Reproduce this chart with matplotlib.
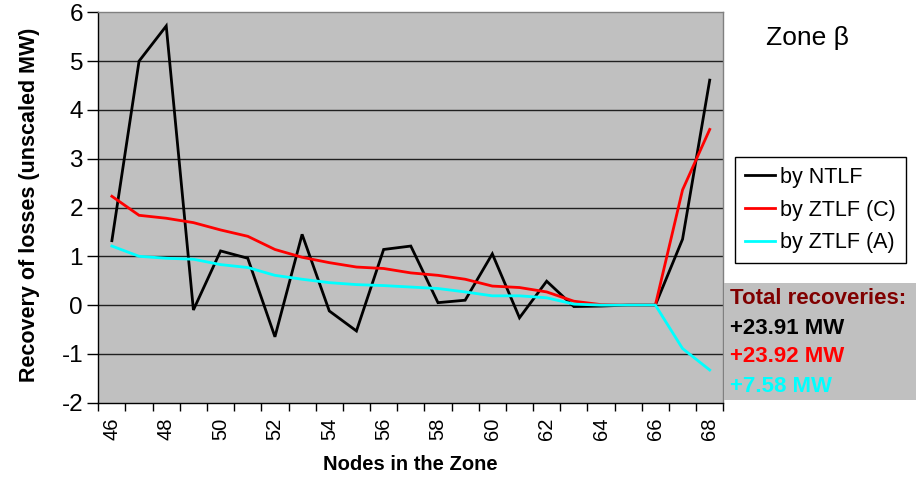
import matplotlib
matplotlib.use("Agg")
import matplotlib.pyplot as plt
import numpy as np

nodes = list(range(46, 69))
ntlf = [1.32, 5.00, 5.72, -0.10, 1.11, 0.96, -0.65, 1.45, -0.12, -0.53, 1.14, 1.21,
        0.05, 0.10, 1.05, -0.26, 0.49, -0.03, -0.02, 0.0, 0.0, 1.35, 4.61]
ztlf_c = [2.23, 1.84, 1.78, 1.69, 1.54, 1.41, 1.14, 0.98, 0.87, 0.78, 0.75, 0.66,
          0.61, 0.53, 0.39, 0.36, 0.27, 0.08, 0.01, 0.0, 0.0, 2.36, 3.60]
ztlf_a = [1.21, 1.00, 0.96, 0.94, 0.83, 0.77, 0.61, 0.53, 0.46, 0.42, 0.40, 0.37,
          0.34, 0.27, 0.19, 0.19, 0.15, 0.02, 0.0, 0.0, 0.0, -0.89, -1.33]
series_names = ["by NTLF", "by ZTLF (C)", "by ZTLF (A)"]
series_colors = ["#000000", "#ff0000", "#00ffff"]
totals_title = "Total recoveries:"
totals = ["+23.91 MW", "+23.92 MW", "+7.58 MW"]

plt.rcParams['font.family'] = ['Liberation Sans', 'DejaVu Sans']

fig = plt.figure(figsize=(9.22, 4.80), dpi=100)
W, H = 922, 480
ax = fig.add_axes([98.3 / W, 1 - 402.7 / H, (723.3 - 98.3) / W, (402.7 - 12.3) / H])
ax.set_facecolor("#c0c0c0")

x = np.arange(len(nodes))
for vals, name, col in zip([ntlf, ztlf_c, ztlf_a], series_names, series_colors):
    ax.plot(x, vals, color=col, lw=2, label=name, solid_joinstyle='miter', zorder=3)

ax.set_xlim(-0.5, len(nodes) - 0.5)
ax.set_ylim(-2, 6)
ax.set_yticks(range(-2, 7))
ax.set_yticklabels([str(v) for v in range(-2, 7)], fontsize=17.5)
for v in range(-1, 6):
    ax.axhline(v, color="#202020", lw=1, zorder=1)

ax.set_xticks(np.arange(len(nodes) + 1) - 0.5)
ax.set_xticklabels([])
ax.set_xticks(x[::2], minor=True)
ax.set_xticklabels([str(n) for n in nodes[::2]], minor=True, rotation=90, fontsize=14.5)
ax.tick_params(axis='x', which='minor', length=0, pad=11)
ax.tick_params(axis='x', which='major', length=6, width=1, direction='out', color='black')
ax.tick_params(axis='y', length=8, width=1, direction='out', pad=3)

for s in ['top', 'right']:
    ax.spines[s].set_color('#808080')
    ax.spines[s].set_linewidth(1)
for s in ['left', 'bottom']:
    ax.spines[s].set_color('black')
    ax.spines[s].set_linewidth(1)

fig.text(29 / W, 1 - 205 / H, "Recovery of losses (unscaled MW)", rotation=90,
         fontsize=15.5, fontweight='bold', ha='center', va='center')
fig.text(410 / W, 1 - 465 / H, "Nodes in the Zone", fontsize=14.5, fontweight='bold',
         ha='center', va='center')

fig.text(766 / W, 1 - 38 / H, "Zone \u03b2", fontsize=19, ha='left', va='center')

leg = fig.legend(loc='upper left', bbox_to_anchor=(735 / W, 1 - 157 / H), fontsize=15.5,
                 frameon=True, fancybox=False, edgecolor='black', framealpha=1,
                 handlelength=1.4, handletextpad=0.25, borderpad=0.45, labelspacing=0.55,
                 borderaxespad=0)
leg.get_frame().set_linewidth(1)

fig.patches.append(plt.Rectangle((724 / W, 1 - 400 / H), (916 - 724) / W, (400 - 283) / H,
                                 transform=fig.transFigure, facecolor="#c0c0c0",
                                 edgecolor='none', zorder=0))
fig.text(730 / W, 1 - 298 / H, totals_title, fontsize=16, fontweight='bold',
         color="#800000", ha='left', va='center')
for i, (t, c) in enumerate(zip(totals, series_colors)):
    fig.text(730 / W, 1 - (328 + 29 * i) / H, t, fontsize=16, fontweight='bold',
             color=c, ha='left', va='center')

fig.savefig("out.png", dpi=100)
